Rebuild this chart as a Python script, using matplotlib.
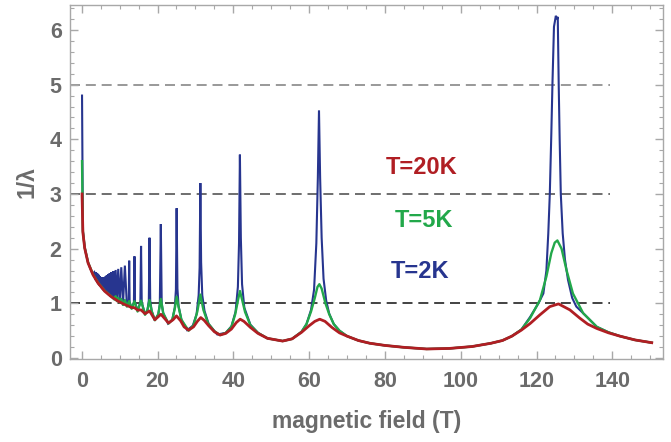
import matplotlib
matplotlib.use("Agg")
import matplotlib.pyplot as plt
from matplotlib.ticker import MultipleLocator

# ---------------- data ----------------
# T = 20 K (red)
field_20K = [0.08, 0.3, 0.78, 1.66, 2.98, 4.3, 6.07, 7.8, 9.6, 11.3, 13.1, 13.9, 14.8,
             15.65, 16.7, 17.9, 19.3, 20.9, 22.9, 24.1, 25.0, 26.1, 27.0, 28.2, 29.5,
             30.5, 31.4, 32.3, 33.5, 35.0, 36.5, 38.0, 39.5, 40.8, 41.8, 42.8, 44.5,
             46.5, 49.0, 53.0, 55.5, 58.0, 60.0, 61.5, 62.8, 64.2, 66.0, 68.0, 70.0,
             73.0, 76.0, 80.0, 85.0, 91.0, 97.0, 103.0, 108.0, 111.0, 113.5, 116.0,
             118.3, 120.9, 123.5, 125.8, 128.8, 131.4, 133.5, 135.9, 139.0, 142.0,
             146.0, 150.4]
inv_lambda_20K = [3.0, 2.3, 2.01, 1.74, 1.52, 1.37, 1.22, 1.12, 1.04, 0.98, 0.925, 0.92,
                  0.875, 0.88, 0.81, 0.86, 0.70, 0.80, 0.64, 0.70, 0.77, 0.68, 0.57,
                  0.51, 0.57, 0.67, 0.74, 0.69, 0.59, 0.48, 0.42, 0.45, 0.53, 0.65,
                  0.71, 0.67, 0.56, 0.45, 0.36, 0.31, 0.35, 0.47, 0.59, 0.67, 0.71,
                  0.67, 0.56, 0.46, 0.40, 0.32, 0.27, 0.23, 0.195, 0.165, 0.175, 0.21,
                  0.27, 0.32, 0.40, 0.51, 0.63, 0.79, 0.94, 0.99, 0.88, 0.73, 0.62,
                  0.54, 0.46, 0.40, 0.33, 0.28]

# T = 5 K (green)
field_5K = [0.08, 0.3, 0.78, 1.66, 2.98, 4.3, 6.07, 7.8, 8.6, 8.94, 9.27, 9.63, 10.02,
            10.43, 10.89, 11.38, 11.92, 12.52, 13.18, 13.91, 14.73, 15.65, 16.7, 17.35,
            17.89, 18.45, 19.3, 20.2, 20.87, 21.5, 22.9, 23.9, 24.6, 25.04, 25.5, 26.3,
            28.2, 29.5, 30.5, 31.3, 32.1, 33.3, 35.0, 36.5, 38.0, 39.5, 40.5, 41.2,
            41.75, 42.3, 43.1, 44.5, 46.5, 49.0, 53.0, 55.5, 58.0, 59.3, 60.5, 61.5,
            62.2, 62.7, 63.3, 64.3, 65.3, 66.5, 68.0, 70.0, 73.0, 76.0, 80.0, 85.0,
            91.0, 97.0, 103.0, 108.0, 111.0, 113.5, 116.0, 118.3, 120.9, 122.6, 123.9,
            124.8, 125.5, 126.6, 127.9, 129.6, 132.3, 135.9, 139.0, 142.0, 146.0, 150.4]
inv_lambda_5K = [3.6, 2.32, 2.02, 1.75, 1.53, 1.38, 1.23, 1.13, 1.07, 1.13, 1.04, 1.10,
                 1.01, 1.08, 0.97, 1.06, 0.94, 1.04, 0.90, 1.04, 0.85, 1.05, 0.79, 0.88,
                 1.06, 0.86, 0.69, 0.80, 1.08, 0.82, 0.63, 0.70, 0.92, 1.12, 0.95, 0.70,
                 0.50, 0.60, 0.85, 1.16, 0.88, 0.64, 0.49, 0.42, 0.46, 0.57, 0.80, 1.05,
                 1.225, 1.07, 0.84, 0.60, 0.46, 0.36, 0.31, 0.35, 0.48, 0.62, 0.85, 1.10,
                 1.30, 1.35, 1.27, 1.00, 0.80, 0.62, 0.50, 0.40, 0.32, 0.27, 0.23, 0.195,
                 0.165, 0.175, 0.21, 0.27, 0.32, 0.40, 0.52, 0.73, 1.06, 1.49, 1.92,
                 2.11, 2.15, 2.00, 1.61, 1.18, 0.82, 0.57, 0.47, 0.40, 0.33, 0.28]

# T = 2 K (blue)
field_2K = [0.08, 0.3, 0.78, 1.66, 2.6, 2.98, 3.3,
            3.629, 3.682, 3.737, 3.794, 3.852, 3.913, 3.975, 4.039, 4.105, 4.173,
            4.244, 4.317, 4.393, 4.471, 4.553, 4.637, 4.725, 4.815, 4.910, 5.008,
            5.110, 5.217, 5.328, 5.443, 5.564, 5.691, 5.823, 5.962, 6.107, 6.26,
            6.421, 6.589, 6.768, 6.956, 7.154, 7.365, 7.588, 7.825, 8.077, 8.347,
            8.634, 8.943, 9.274, 9.631, 10.016, 10.433, 10.887, 11.382, 11.924,
            12.40, 12.52, 12.64, 13.179, 13.77, 13.911, 14.05, 14.729,
            15.47, 15.65, 15.83, 16.693,
            17.35, 17.7, 17.886, 18.07, 18.45, 19.262,
            20.2, 20.6, 20.867, 21.1, 21.5, 22.764,
            23.9, 24.55, 24.85, 25.04, 25.25, 25.55, 26.3, 27.822,
            29.3, 30.3, 30.85, 31.1, 31.3, 31.5, 31.8, 32.4, 33.5, 35.771,
            38.0, 39.5, 40.6, 41.2, 41.5, 41.733, 41.98, 42.3, 42.9, 44.5, 46.5, 49.0, 53.0,
            55.5, 58.0, 59.3, 60.5, 61.3, 61.9, 62.3, 62.6, 62.9, 63.3, 63.8, 64.5,
            65.3, 66.5, 68.0, 70.0, 73.0, 76.0, 80.0, 85.0, 91.0, 97.0, 103.0, 108.0,
            111.0, 113.5, 116.0, 118.3, 120.5, 121.8, 122.6, 123.1, 123.5, 123.9,
            124.2, 124.6, 125.1, 125.35, 125.6, 125.85, 126.1, 126.4, 126.9, 127.5,
            128.3, 129.4, 130.5, 132.3, 135.9, 139.0, 142.0, 146.0, 150.4]
inv_lambda_2K = [4.8, 2.33, 2.02, 1.75, 1.58, 1.55, 1.57,
                 1.44, 1.57, 1.42, 1.56, 1.41, 1.55, 1.40, 1.55, 1.38, 1.54,
                 1.37, 1.53, 1.35, 1.52, 1.34, 1.50, 1.32, 1.49, 1.31, 1.48,
                 1.29, 1.47, 1.27, 1.47, 1.25, 1.47, 1.23, 1.48, 1.21, 1.49,
                 1.19, 1.51, 1.17, 1.53, 1.15, 1.55, 1.12, 1.57, 1.10, 1.59,
                 1.08, 1.61, 1.04, 1.63, 1.02, 1.66, 0.98, 1.69, 0.95,
                 1.02, 1.78, 1.02, 0.91, 1.02, 1.86, 1.02, 0.865,
                 1.02, 2.05, 1.02, 0.80,
                 0.88, 1.05, 2.20, 1.05, 0.86, 0.69,
                 0.80, 0.98, 2.45, 1.00, 0.82, 0.63,
                 0.70, 0.92, 1.25, 2.74, 1.27, 0.95, 0.70, 0.51,
                 0.59, 0.80, 1.15, 1.65, 3.20, 1.75, 1.15, 0.86, 0.62, 0.43,
                 0.46, 0.58, 0.85, 1.30, 2.10, 3.72, 2.20, 1.35, 0.92, 0.61, 0.46, 0.36, 0.31,
                 0.35, 0.48, 0.62, 0.88, 1.25, 2.10, 3.30, 4.53, 3.30, 2.20, 1.45, 1.05,
                 0.81, 0.62, 0.50, 0.40, 0.32, 0.27, 0.23, 0.195, 0.165, 0.175, 0.21, 0.27,
                 0.32, 0.40, 0.52, 0.75, 1.00, 1.18, 1.60, 2.28, 3.00, 4.10,
                 5.02, 6.06, 6.26, 6.20, 6.24, 5.00, 4.00, 3.00, 2.28, 1.80,
                 1.43, 1.10, 0.94, 0.82, 0.57, 0.47, 0.40, 0.33, 0.28]

reference_levels = [1, 3, 5]
x_ticks = [0, 20, 40, 60, 80, 100, 120, 140]
y_ticks = [0, 1, 2, 3, 4, 5, 6]
labels = ["T=20K", "T=5K", "T=2K"]

# ---------------- figure ----------------
plt.rcParams['font.family'] = ['Liberation Sans', 'DejaVu Sans']
gray = '#6b6b6b'
frame = '#a8a8a8'

fig = plt.figure(figsize=(6.71, 4.42), dpi=100)
ax = fig.add_axes([0.1043, 0.1867, 0.8834, 0.802])

ax.set_xlim(-3.1, 153.3)
ax.set_ylim(-0.027, 6.457)

dash_colors = ['#222222', '#555555', '#888888']
for lvl, c in zip(reference_levels, dash_colors):
    ax.plot([-3.1, 139.5], [lvl, lvl], color=c, lw=1.2, dashes=(6, 3.5), zorder=1)

c_blue, c_green, c_red = '#27358f', '#22a84a', '#b01e23'
ax.plot(field_2K, inv_lambda_2K, color=c_blue, lw=1.5, zorder=2, solid_joinstyle='miter')
ax.plot(field_5K, inv_lambda_5K, color=c_green, lw=1.7, zorder=3)
ax.plot(field_20K, inv_lambda_20K, color=c_red, lw=2.0, zorder=4)

txt = dict(fontsize=17, fontweight='bold', ha='center', va='center')
ax.text(89.8, 3.48, labels[0], color=c_red, **txt)
ax.text(90.3, 2.51, labels[1], color=c_green, **txt)
ax.text(89.3, 1.59, labels[2], color=c_blue, **txt)

ax.set_xticks(x_ticks)
ax.set_yticks(y_ticks)
ax.xaxis.set_minor_locator(MultipleLocator(5))
ax.yaxis.set_minor_locator(MultipleLocator(0.2))
ax.tick_params(which='both', direction='in', top=True, right=True, color=frame,
               labelcolor=gray, labelsize=15.5)
ax.tick_params(which='major', length=6, width=1)
ax.tick_params(which='minor', length=3, width=0.8)
ax.tick_params(axis='x', pad=8)
ax.tick_params(axis='y', pad=6)
for lab in ax.get_xticklabels() + ax.get_yticklabels():
    lab.set_fontweight('bold')
for s in ax.spines.values():
    s.set_color(frame)
    s.set_linewidth(1.0)

ax.set_xlabel('magnetic field (T)', fontsize=16.5, fontweight='bold', color=gray, labelpad=13)
ax.set_ylabel('1/λ', fontsize=16.5, fontweight='bold', color=gray, labelpad=8)

fig.savefig('out.png', dpi=100)
